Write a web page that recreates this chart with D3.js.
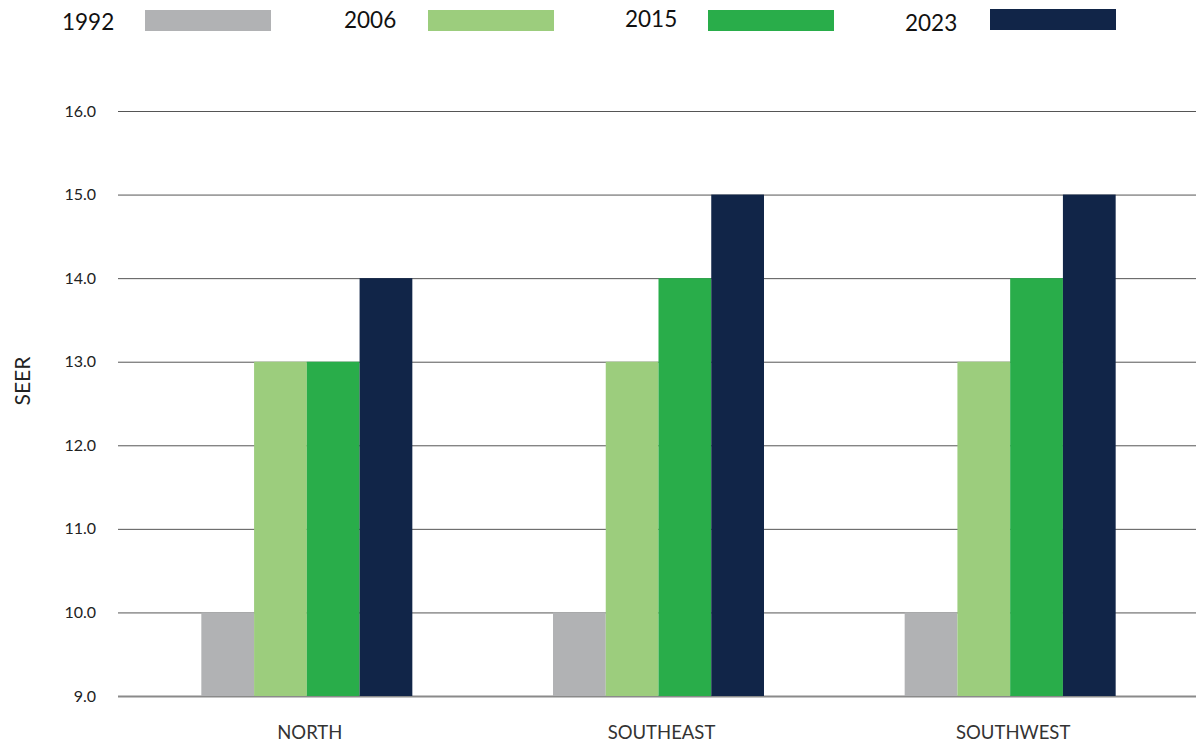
<!DOCTYPE html>
<html>
<head>
<meta charset="utf-8">
<script src="https://cdn.jsdelivr.net/npm/d3@7"></script>
<style>
body { margin: 0; background: #fff; }
text { font-family: Lato, "Open Sans", sans-serif; font-weight: 400; }
</style>
</head>
<body>
<svg id="vis-svg" width="1196" height="743"></svg>
<script>

// Data
var regions = ['NORTH', 'SOUTHEAST', 'SOUTHWEST'];
var years = ['1992', '2006', '2015', '2023'];
var seer1992 = [10, 10, 10];
var seer2006 = [13, 13, 13];
var seer2015 = [13, 14, 14];
var seer2023 = [14, 15, 15];
var yTicks = [9, 10, 11, 12, 13, 14, 15, 16];
var colors = ['#b1b2b4', '#9ccd7d', '#29ad4a', '#112548'];

var series = [seer1992, seer2006, seer2015, seer2023];

var svg = d3.select('#vis-svg');

// Y Scale
var yScale = d3.scaleLinear()
  .domain([9, 16])
  .range([696, 111]);

// X Scales
var xScale = d3.scaleBand()
  .domain(regions)
  .range([131, 1186])
  .paddingInner(0.4)
  .paddingOuter(0.2);

var xSub = d3.scaleBand()
  .domain(years)
  .range([0, xScale.bandwidth()]);

// Gridlines
var yAxis = d3.axisLeft(yScale)
  .tickValues(yTicks)
  .tickSize(-(1196 - 118))
  .tickFormat(d3.format('.1f'))
  .tickPadding(22);

var yAxisGroup = svg.append('g')
  .attr('class', 'y axis')
  .attr('transform', 'translate(118,0)')
  .call(yAxis);
yAxisGroup.select('.domain').remove();
yAxisGroup.selectAll('line')
  .attr('stroke', '#555')
  .attr('stroke-width', 1);
yAxisGroup.selectAll('line')
  .filter(function(d) { return d === 9; })
  .attr('stroke', '#8a8a8a')
  .attr('stroke-width', 2);
yAxisGroup.selectAll('text')
  .attr('font-size', 16)
  .attr('fill', '#222')
  .style('font-family', 'Lato, sans-serif');

// Bars
var rows = [];
regions.forEach(function(r, i) {
  years.forEach(function(y, j) {
    rows.push({ region: r, year: y, value: series[j][i], color: colors[j] });
  });
});

svg.append('g')
  .selectAll('rect')
  .data(rows)
  .enter()
  .append('rect')
  .attr('x', function(d) { return xScale(d.region) + xSub(d.year); })
  .attr('y', function(d) { return yScale(d.value); })
  .attr('width', xSub.bandwidth())
  .attr('height', function(d) { return yScale(9) - yScale(d.value); })
  .attr('fill', function(d) { return d.color; });

// X labels
svg.append('g')
  .selectAll('text')
  .data(regions)
  .enter()
  .append('text')
  .attr('x', function(d) { return xScale(d) + xScale.bandwidth() / 2 + 3; })
  .attr('y', 739)
  .attr('text-anchor', 'middle')
  .attr('font-size', 18.5)
  .attr('fill', '#333')
  .text(function(d) { return d; });

// Y axis label
svg.append('text')
  .attr('transform', 'translate(30,381) rotate(-90)')
  .attr('text-anchor', 'middle')
  .attr('font-size', 21)
  .attr('fill', '#222')
  .text('SEER');

// Legend
var legendText = [62, 344, 625, 905];
var legendBox = [145, 428, 708, 990];
var legendY = [10, 10, 10, 9];
var legendBase = [30, 28, 27, 31];

var legend = svg.append('g').selectAll('g')
  .data(years)
  .enter()
  .append('g');

legend.append('text')
  .attr('x', function(d, i) { return legendText[i]; })
  .attr('y', function(d, i) { return legendBase[i]; })
  .attr('font-size', 22.5)
  .attr('fill', '#111')
  .text(function(d) { return d; });

legend.append('rect')
  .attr('x', function(d, i) { return legendBox[i]; })
  .attr('y', function(d, i) { return legendY[i]; })
  .attr('width', 126)
  .attr('height', 21)
  .attr('fill', function(d, i) { return colors[i]; });

</script>
</body>
</html>
